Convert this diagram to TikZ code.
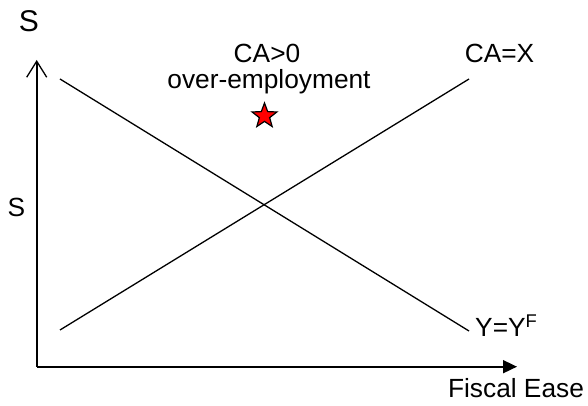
\documentclass[tikz,border=0pt]{standalone}
\usepackage{fontspec}
\setmainfont{Liberation Sans}
\usetikzlibrary{arrows.meta,shapes.geometric}
\begin{document}
\begin{tikzpicture}[x=1pt,y=1pt,
  lbl/.style={inner sep=0pt,anchor=base,font=\fontsize{26.3}{27}\selectfont},
  axis/.style={line width=1.7pt},
  curve/.style={line width=1.3pt},
  starmark/.style={star,star points=5,star point ratio=2.4,minimum size=26pt,inner sep=0pt,fill=red,draw=black,line width=1.2pt}]
\useasboundingbox (0,0) rectangle (588,406);
% axes
\coordinate (O) at (36.7,39.3);
\coordinate (ytop) at (36.7,346);
\coordinate (xend) at (517,39.3);
\draw[axis,-{Straight Barb[length=16pt,width=20pt,line width=1.3pt]}] (O) -- (ytop);
\draw[axis,-{Triangle[length=14pt,width=13pt]}] (O) -- (xend);
% lines
\coordinate (a1) at (60,76);
\coordinate (a2) at (469,327);
\coordinate (b1) at (60,327);
\coordinate (b2) at (469,75);
\draw[curve] (a1) -- (a2);
\draw[curve] (b1) -- (b2);
% labels
\node[lbl,font=\fontsize{30}{32}\selectfont] (Stop) at (29,374) {S};
\node[lbl] (Sleft) at (16.5,189) {S};
\node[lbl] (ca0) at (267,343) {CA>0};
\node[lbl] (over) at (269,317) {over-employment};
\node[lbl] (cax) at (499.5,343) {CA=X};
\node[lbl,anchor=base west] (yyf) at (475,69) {Y=Y\textsuperscript{F}};
\node[lbl] (fe) at (516,8) {Fiscal Ease};
\node[starmark] (st) at (264.5,290) {};
\end{tikzpicture}
\end{document}
